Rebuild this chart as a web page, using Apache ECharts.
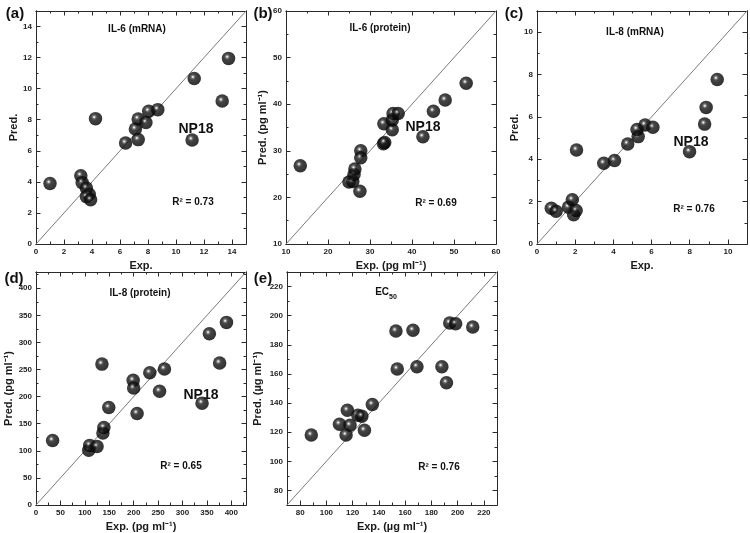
<!DOCTYPE html>
<html><head><meta charset="utf-8">
<script src="https://cdn.jsdelivr.net/npm/echarts@6/dist/echarts.min.js"></script>
<style>html,body{margin:0;padding:0;background:#fff}#c{width:750px;height:533px}</style>
</head><body><div id="c"></div>
<script>
// ---- data ----
const aExp  = [1.0, 4.25, 3.2, 3.3, 3.6, 3.8, 3.6, 3.9, 6.4, 7.1, 7.3, 7.3, 7.85, 8.05, 8.7, 11.15, 11.3, 13.3, 13.75];
const aPred = [3.9, 8.07, 4.4, 3.95, 3.6, 3.2, 3.05, 2.85, 6.5, 7.4, 8.05, 6.72, 7.82, 8.55, 8.65, 6.7, 10.65, 9.2, 11.95];

const bExp  = [13.4, 25.0, 25.9, 26.2, 26.4, 27.6, 27.8, 27.8, 33.2, 33.5, 33.3, 35.3, 35.3, 35.5, 36.7, 42.6, 45.1, 47.9, 52.9];
const bPred = [26.8, 23.3, 23.4, 24.9, 26.1, 21.3, 30.0, 28.5, 31.5, 31.8, 35.8, 34.5, 36.6, 38.0, 38.0, 33.0, 38.5, 40.9, 44.5];

const cExp  = [0.75, 1.0, 1.65, 1.85, 1.92, 2.05, 2.07, 3.5, 4.06, 4.75, 5.3, 5.24, 5.66, 6.07, 7.99, 8.78, 8.86, 9.44];
const cPred = [1.69, 1.55, 1.74, 2.09, 1.38, 1.58, 4.44, 3.81, 3.94, 4.72, 5.07, 5.41, 5.62, 5.51, 4.36, 5.66, 6.45, 7.77];

const dExp  = [34, 108, 110, 125, 135, 137, 139, 149, 199, 200, 207, 233, 253, 263, 340, 355, 376, 390];
const dPred = [119, 101, 110, 108, 260, 133, 143, 180, 230, 216, 169, 244, 210, 251, 188, 316, 262, 337];

const eExp  = [88.5, 110, 116, 118, 115, 124, 127, 129, 135, 153, 154, 166, 169, 188, 191.5, 194, 198.5, 211.5];
const ePred = [118, 125.5, 135, 124.7, 118, 131.6, 131, 121.3, 139, 189.5, 163.4, 190, 165, 165, 154, 195, 194.5, 192.2];

// tick labels
const aTicks = [0, 2, 4, 6, 8, 10, 12, 14];
const bTicks = [10, 20, 30, 40, 50, 60];
const cTicks = [0, 2, 4, 6, 8, 10];
const dTicks = [0, 50, 100, 150, 200, 250, 300, 350, 400];
const eTicks = [80, 100, 120, 140, 160, 180, 200, 220];

const titles = ['IL-6 (mRNA)', 'IL-6 (protein)', 'IL-8 (mRNA)', 'IL-8 (protein)', 'EC50'];
const r2 = ['0.73', '0.69', '0.76', '0.65', '0.76'];
const letters = ['(a)', '(b)', '(c)', '(d)', '(e)'];
const xNames = ['Exp.', 'Exp. (pg ml\u207B\u00B9)', 'Exp.', 'Exp. (pg ml\u207B\u00B9)', 'Exp. (\u00B5g ml\u207B\u00B9)'];
const yNames = ['Pred.', 'Pred. (pg ml\u207B\u00B9)', 'Pred.', 'Pred. (pg ml\u207B\u00B9)', 'Pred. (\u00B5g ml\u207B\u00B9)'];

// ---- layout ----
const FONT = 'Liberation Sans, Arial, sans-serif';
const panels = [
  {exp: aExp, pred: aPred, min: 0,  max: 15,  major: aTicks, minor: 1,  grid: {left: 36,  top: 11,  width: 210, height: 233}, yGap: 17, xGap: 16,
   title: [137, 29], np: [196, 129], r2: [193, 202], letter: [15, 14]},
  {exp: bExp, pred: bPred, min: 10, max: 60,  major: bTicks, minor: 5,  grid: {left: 286, top: 11,  width: 210, height: 233}, yGap: 18, xGap: 16,
   title: [380, 28], np: [423, 127], r2: [436, 203], letter: [263, 14]},
  {exp: cExp, pred: cPred, min: 0,  max: 11,  major: cTicks, minor: 1,  grid: {left: 537, top: 11,  width: 210, height: 233}, yGap: 17, xGap: 16,
   title: [635, 32], np: [691, 142], r2: [694, 209], letter: [514, 14]},
  {exp: dExp, pred: dPred, min: 0,  max: 430, major: dTicks, minor: 25, grid: {left: 36,  top: 272, width: 210, height: 235}, yGap: 22, xGap: 16,
   title: [140, 293], np: [201, 395], r2: [181, 466], letter: [14, 279]},
  {exp: eExp, pred: ePred, min: 70, max: 230, major: eTicks, minor: 10, grid: {left: 287, top: 272, width: 210, height: 235}, yGap: 24, xGap: 16,
   title: [386, 294], np: null, r2: [439, 467], letter: [263, 279]}
];

const ballColor = {
  type: 'radial', x: 0.4, y: 0.38, r: 0.6,
  colorStops: [
    {offset: 0, color: '#ffffff'},
    {offset: 0.08, color: '#d0d0d0'},
    {offset: 0.2, color: '#555'},
    {offset: 0.38, color: '#141414'},
    {offset: 1, color: '#000'}
  ]
};

const grids = [], xAxes = [], yAxes = [], series = [], graphics = [];
const nameStyle = {fontFamily: FONT, fontWeight: 'bold', fontSize: 11, color: '#1a1a1a'};

function rangeTicks(min, max, step) {
  const out = [];
  for (let v = min; v <= max + 1e-9; v += step) out.push(+v.toFixed(6));
  return out;
}

panels.forEach((p, i) => {
  grids.push(Object.assign({containLabel: false}, p.grid));
  const minorVals = rangeTicks(Math.ceil(p.min / p.minor) * p.minor, p.max, p.minor).filter(v => p.major.indexOf(v) < 0);
  const base = {
    type: 'value', gridIndex: i, min: p.min, max: p.max,
    splitLine: {show: false},
    axisLine: {show: true, onZero: false, lineStyle: {color: '#2a2a2a', width: 1}}
  };
  const mk = (pos, labels, ticks, len, name, gap) => Object.assign({}, base, {
    position: pos,
    axisTick: {show: true, inside: true, length: len, customValues: ticks, lineStyle: {color: '#2a2a2a', width: 1}},
    axisLabel: {show: labels, customValues: p.major, fontFamily: FONT, fontWeight: 'bold', fontSize: 8, color: '#222', margin: 4},
    name: name || '', nameLocation: 'middle', nameGap: gap || 0, nameTextStyle: nameStyle
  });
  const xBase = xAxes.length, yBase = yAxes.length;
  xAxes.push(mk('bottom', true, p.major, 4.5, xNames[i], p.xGap));
  xAxes.push(mk('bottom', false, minorVals, 2.5));
  xAxes.push(mk('top', false, p.major, 4.5));
  xAxes.push(mk('top', false, minorVals, 2.5));
  yAxes.push(mk('left', true, p.major, 4.5, yNames[i], p.yGap));
  yAxes.push(mk('left', false, minorVals, 2.5));
  yAxes.push(mk('right', false, p.major, 4.5));
  yAxes.push(mk('right', false, minorVals, 2.5));

  series.push({
    type: 'line', xAxisIndex: xBase, yAxisIndex: yBase,
    data: [[p.min, p.min], [p.max, p.max]],
    symbol: 'none', silent: true, z: 1,
    lineStyle: {color: '#7a7a7a', width: 1}
  });
  series.push({
    type: 'scatter', xAxisIndex: xBase, yAxisIndex: yBase,
    data: p.exp.map((v, k) => [v, p.pred[k]]),
    symbol: 'circle', symbolSize: 13.5, z: 3,
    itemStyle: {color: ballColor}
  });

  // texts
  const txt = (pos, text, size, weight, extra) => graphics.push(Object.assign({
    type: 'text', x: pos[0], y: pos[1], z: 10,
    style: Object.assign({text, font: `${weight} ${size}px ${FONT}`, fill: '#111', align: 'center', verticalAlign: 'middle'}, extra || {})
  }));
  if (i === 4) {
    graphics.push({
      type: 'text', x: p.title[0], y: p.title[1], z: 10,
      style: {text: '{a|EC}{s|50}', align: 'center', verticalAlign: 'middle',
        rich: {a: {font: `bold 10px ${FONT}`, fill: '#111', verticalAlign: 'top', lineHeight: 14},
               s: {font: `bold 7px ${FONT}`, fill: '#111', verticalAlign: 'bottom', lineHeight: 14, padding: [6, 0, 0, 0]}}}
    });
  } else {
    txt(p.title, titles[i], 10, 'bold');
  }
  if (p.np) txt(p.np, 'NP18', 14, '600');
  txt(p.r2, 'R\u00B2 = ' + r2[i], 10, 'bold');
  txt(p.letter, letters[i], 15, 'bold');
});

const chart = echarts.init(document.getElementById('c'), null, {renderer: 'canvas'});
chart.setOption({
  animation: false,
  backgroundColor: '#fff',
  grid: grids, xAxis: xAxes, yAxis: yAxes, series, graphic: graphics
});
</script></body></html>
